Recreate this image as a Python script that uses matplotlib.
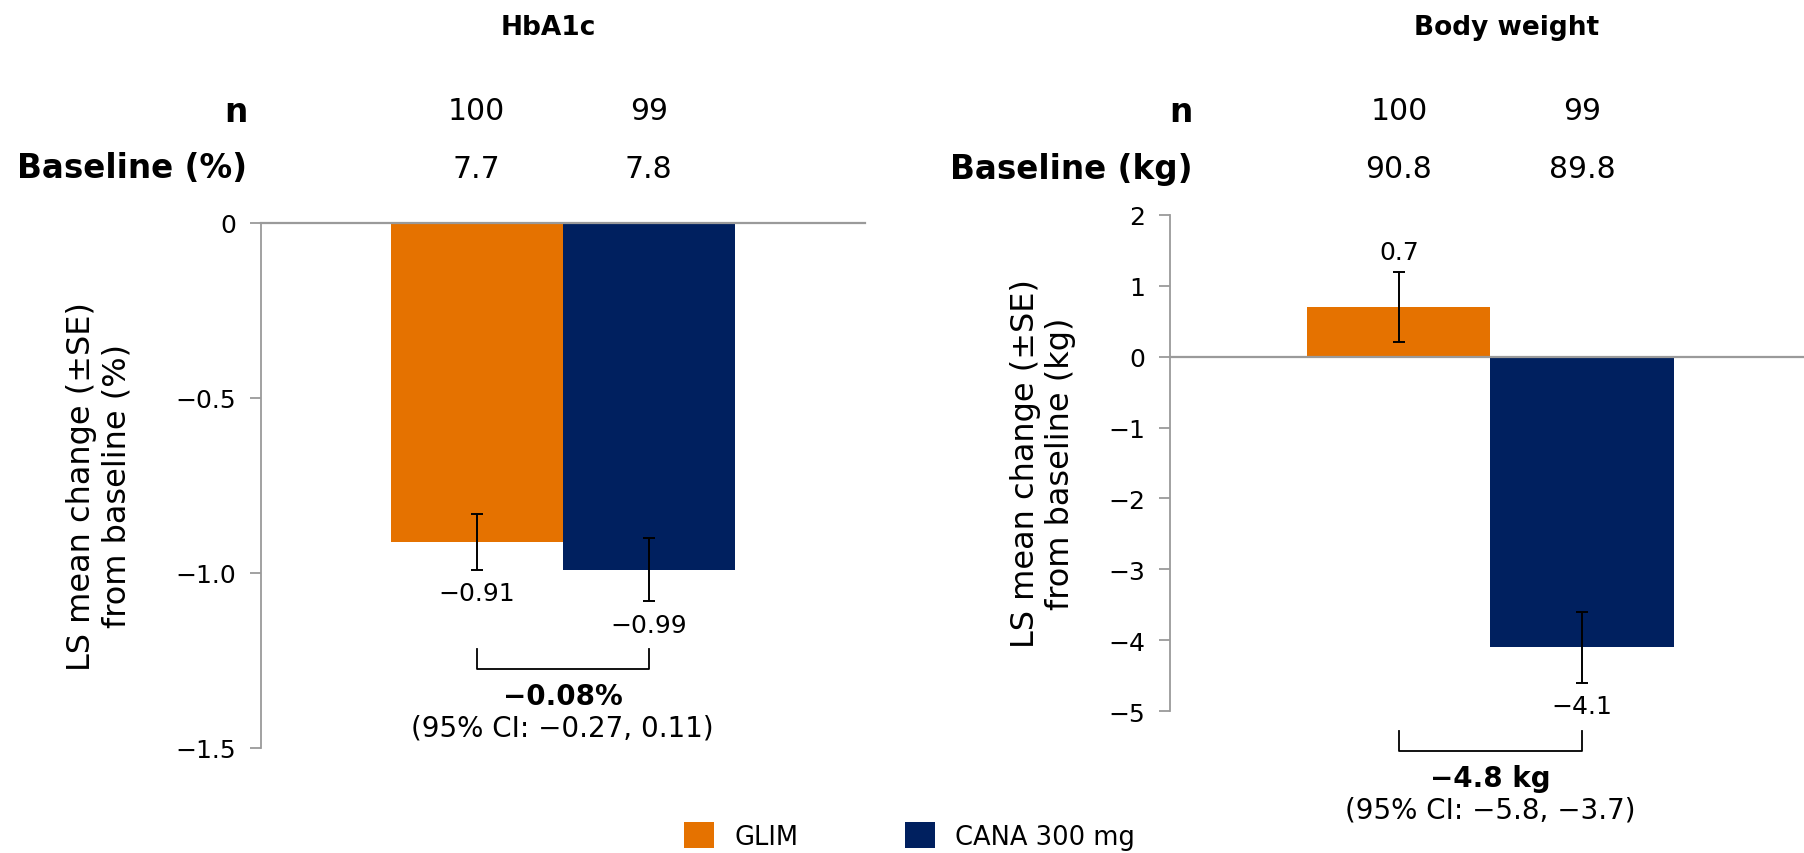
import matplotlib
matplotlib.use("Agg")
import matplotlib.pyplot as plt
from matplotlib.patches import Patch
from matplotlib import transforms
import numpy as np

plt.rcParams['font.family'] = ['DejaVu Sans']

# ---------------- data ----------------
groups = ["GLIM", "CANA 300 mg"]
n_values = [100, 99]

hba1c_baseline = [7.7, 7.8]
hba1c_change = [-0.91, -0.99]
hba1c_se = [0.08, 0.09]
hba1c_diff = -0.08
hba1c_ci = [-0.27, 0.11]
hba1c_ticks = [0, -0.5, -1.0, -1.5]
hba1c_ticklabels = ["0", "−0.5", "−1.0", "−1.5"]

weight_baseline = [90.8, 89.8]
weight_change = [0.7, -4.1]
weight_se = [0.5, 0.5]
weight_diff = -4.8
weight_ci = [-5.8, -3.7]
weight_ticks = [2, 1, 0, -1, -2, -3, -4, -5]
weight_ticklabels = ["2", "1", "0", "−1", "−2", "−3", "−4", "−5"]

# ---------------- style ----------------
colors = ["#E57200", "#00205F"]
GRAY = "#9a9a9a"
W, H = 1804, 854

fig = plt.figure(figsize=(W / 100, H / 100), dpi=100)


def fx(px):
    return px / W


def fy(px):
    return 1 - px / H


def fmt(v, nd):
    return f"{v:.{nd}f}".replace("-", "−")


ax1 = fig.add_axes([fx(261), fy(749), (865 - 261) / W, (749 - 224) / H])
ax2 = fig.add_axes([fx(1170), fy(712), (1804 - 1170) / W, (712 - 215.9) / H])


def panel(ax, change, se, ticks, ticklabels, ylim, xlim, nd, ylabel, ylab_x,
          diff_txt, ci_txt, baseline, base_label, row_label_x, title, title_x):
    x = np.arange(len(change))
    ax.set_xlim(xlim)
    ax.set_ylim(ylim)
    ax.bar(x, change, width=1.0, color=colors, zorder=2)
    ax.errorbar(x, change, yerr=se, fmt='none', ecolor='black', elinewidth=1.4,
                capsize=4, capthick=1.4, zorder=4)
    ax.axhline(0, color=GRAY, lw=1.6, zorder=3, clip_on=False)
    ax.set_yticks(ticks)
    ax.set_yticklabels(ticklabels, fontsize=18)
    ax.tick_params(axis='y', length=8, width=1.3, color=GRAY, pad=10)
    ax.set_xticks([])
    for s in ['top', 'right', 'bottom']:
        ax.spines[s].set_visible(False)
    ax.spines['left'].set_color(GRAY)
    ax.spines['left'].set_linewidth(1.3)

    # value labels
    for xi, v, e in zip(x, change, se):
        if v >= 0:
            ax.annotate(fmt(v, nd), (xi, v + e), xytext=(0, 14),
                        textcoords='offset points', ha='center', va='center',
                        fontsize=18, annotation_clip=False)
        else:
            ax.annotate(fmt(v, nd), (xi, v - e), xytext=(0, -17),
                        textcoords='offset points', ha='center', va='center',
                        fontsize=18, annotation_clip=False)

    # bracket for the between-group difference
    low = min(v - e for v, e in zip(change, se))
    low_px = ax.transData.transform((0, low))[1]
    inv = ax.transData.inverted()
    y_top = inv.transform((0, low_px - 48))[1]
    y_bot = inv.transform((0, low_px - 68))[1]
    ax.plot([x[0], x[0], x[1], x[1]], [y_top, y_bot, y_bot, y_top],
            color='black', lw=1.3, clip_on=False, zorder=4,
            solid_joinstyle='round')
    xm = (x[0] + x[1]) / 2
    ax.annotate(diff_txt, (xm, low), xytext=(0, -68.4), textcoords='offset points',
                ha='center', va='center', fontsize=20, fontweight='bold',
                annotation_clip=False)
    ax.annotate(ci_txt, (xm, low), xytext=(0, -91.4), textcoords='offset points',
                ha='center', va='center', fontsize=20, annotation_clip=False)

    # y label
    ax.text(ylab_x, 0.5, ylabel, transform=ax.transAxes, rotation=90,
            ha='center', va='center', multialignment='center', fontsize=23,
            linespacing=1.2)

    # header rows
    bt = transforms.blended_transform_factory(ax.transData, fig.transFigure)
    for xi, nv, b in zip(x, n_values, baseline):
        fig.text(xi, fy(112), f"{nv}", transform=bt, ha='center', va='center',
                 fontsize=21.5)
        fig.text(xi, fy(169), f"{b:.1f}", transform=bt, ha='center',
                 va='center', fontsize=21.5)
    fig.text(row_label_x, fy(112), "n", ha='right', va='center', fontsize=23.5,
             fontweight='bold')
    fig.text(row_label_x, fy(169), base_label, ha='right', va='center',
             fontsize=23.5, fontweight='bold')
    fig.text(title_x, fy(28), title, ha='center', va='center', fontsize=19,
             fontweight='bold')


panel(ax1, hba1c_change, hba1c_se, hba1c_ticks, hba1c_ticklabels,
      (-1.5, 0), (-1.2547, 2.257), 2,
      "LS mean change (±SE)\nfrom baseline (%)", -0.268,
      f"{fmt(hba1c_diff, 2)}%",
      f"(95% CI: {fmt(hba1c_ci[0], 2)}, {fmt(hba1c_ci[1], 2)})",
      hba1c_baseline, "Baseline (%)", fx(247), "HbA1c", fx(548))

panel(ax2, weight_change, weight_se, weight_ticks, weight_ticklabels,
      (-5, 2), (-1.251, 2.213), 1,
      "LS mean change (±SE)\nfrom baseline (kg)", -0.2003,
      f"{fmt(weight_diff, 1)} kg",
      f"(95% CI: {fmt(weight_ci[0], 1)}, {fmt(weight_ci[1], 1)})",
      weight_baseline, "Baseline (kg)", fx(1192), "Body weight", fx(1507))

handles = [Patch(facecolor=c, edgecolor='none') for c in colors]
fig.legend(handles, groups, loc='center left',
           bbox_to_anchor=(fx(684), fy(837)), ncol=2, frameon=False,
           handlelength=1.17, handleheight=1.17, handletextpad=0.78,
           columnspacing=4.16, borderpad=0, borderaxespad=0, fontsize=18.5)

fig.savefig("out.png", dpi=100)
